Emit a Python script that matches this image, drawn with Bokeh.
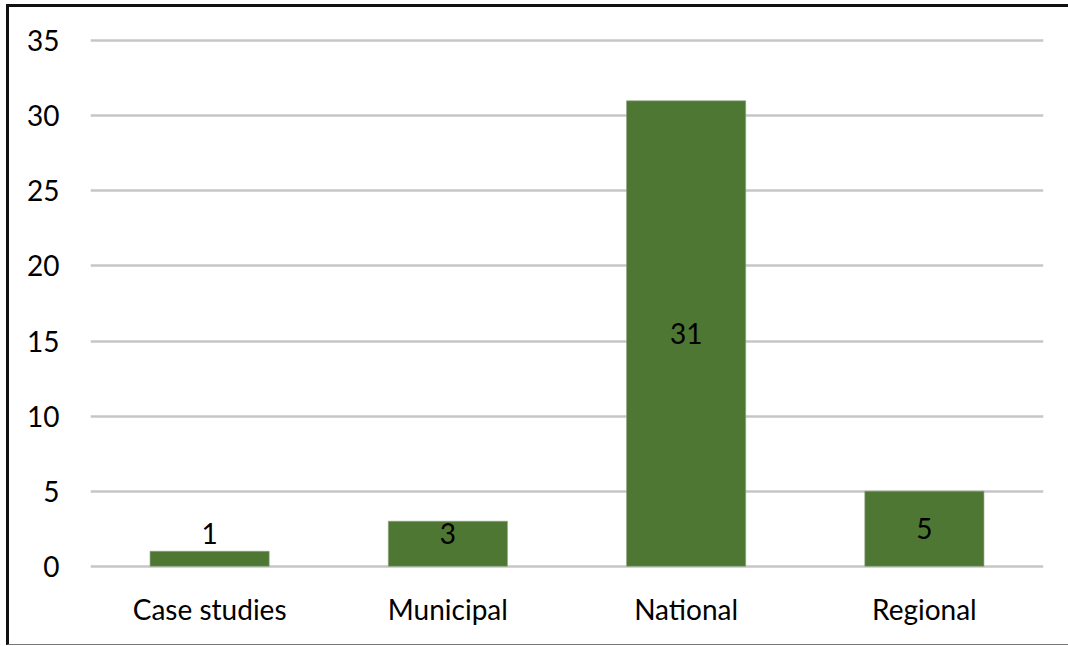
from bokeh.plotting import figure
from bokeh.models import ColumnDataSource, Range1d, FactorRange
from bokeh.core.properties import value
from bokeh.embed import file_html
from bokeh.resources import INLINE

# Number of items per level
categories = ["Case studies", "Municipal", "National", "Regional"]
counts = [1, 3, 31, 5]
y_ticks = [0, 5, 10, 15, 20, 25, 30, 35]

FONT = "Lato"
FONT_SIZE = "28px"
BAR_COLOR = "#4E7733"

label_y = [max(c / 2, 2.2) for c in counts]
source = ColumnDataSource(dict(cat=categories, count=counts,
                               label=[str(c) for c in counts], label_y=label_y))

# small padding so the 0 and 35 gridlines are not clipped at the frame edge
p = figure(width=1062, height=641, x_range=FactorRange(*categories, range_padding=0),
           y_range=Range1d(-0.15, 35.15), output_backend="svg", toolbar_location=None,
           min_border_left=81, min_border_right=28, min_border_top=31, min_border_bottom=80)
p.outline_line_color = None
p.background_fill_color = "white"
p.border_fill_color = "white"
p.margin = (4, 0, 0, 6)
p.styles = {"border-left": "3px solid #111111",
            "border-top": "3px solid #111111",
            "border-bottom": "1px solid #777777"}

p.vbar(x="cat", top="count", width=0.5, source=source,
       fill_color=BAR_COLOR, line_color="#8aa37a", line_width=0.6)

p.text(x="cat", y="label_y", text="label", source=source,
       text_align="center", text_baseline="middle",
       text_font=value(FONT), text_font_size=FONT_SIZE, text_color="#000000")

# axes
p.yaxis.ticker = y_ticks
p.yaxis.axis_line_color = None
p.yaxis.major_tick_line_color = None
p.yaxis.minor_tick_line_color = None
p.yaxis.major_label_standoff = 25
p.yaxis.major_label_text_font = FONT
p.yaxis.major_label_text_font_size = FONT_SIZE
p.yaxis.major_label_text_color = "#000000"

p.xaxis.axis_line_color = None
p.xaxis.major_tick_line_color = None
p.xaxis.major_label_standoff = 17
p.xaxis.major_label_text_font = FONT
p.xaxis.major_label_text_font_size = FONT_SIZE
p.xaxis.major_label_text_color = "#000000"

p.xgrid.grid_line_color = None
p.ygrid.grid_line_color = "#c6c6c6"
p.ygrid.grid_line_width = 2.5
p.ygrid.level = "underlay"

open("out.html", "w").write(file_html(p, INLINE))
